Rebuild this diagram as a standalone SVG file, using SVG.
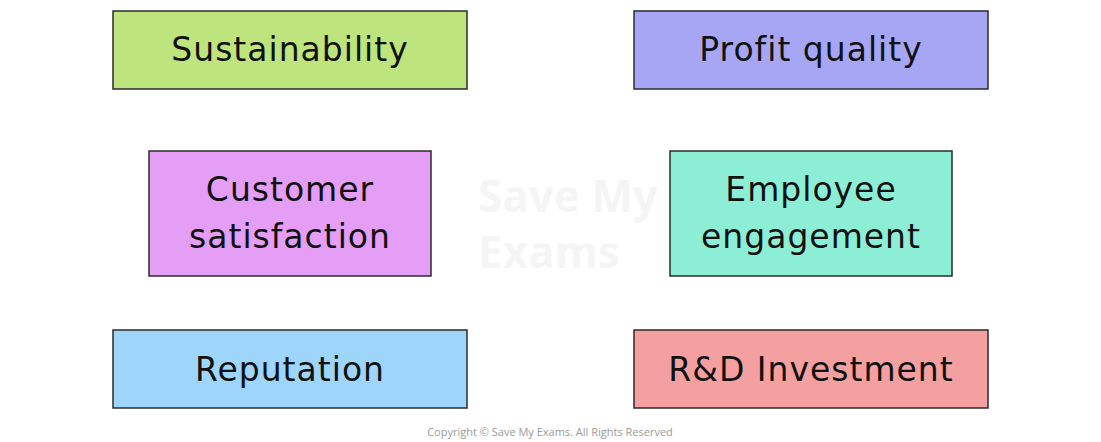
<svg xmlns="http://www.w3.org/2000/svg" width="1101" height="442" viewBox="0 0 1101 442">
<style>
.b{stroke:#2b2b2b;stroke-width:1.5}
.t{font-family:"DejaVu Sans",sans-serif;font-size:33px;fill:#111;text-anchor:middle;letter-spacing:1px}
.w{font-family:"Open Sans",sans-serif;font-weight:bold;font-size:44px;fill:#000;opacity:0.035}
</style>
<rect width="1101" height="442" fill="#fff"/>
<g id="watermark"><text class="w" x="478" y="212">Save My</text><text class="w" x="478" y="268">Exams</text></g>
<g id="connectors"></g>
<g id="sustainability"><rect class="b" x="113" y="11" width="354" height="78" fill="#bde47d"/><text class="t" x="290" y="61">Sustainability</text></g>
<g id="profit"><rect class="b" x="634" y="11" width="354" height="78" fill="#a6a6f4"/><text class="t" x="811" y="61">Profit quality</text></g>
<g id="customer"><rect class="b" x="149" y="151" width="282" height="125" fill="#e49ef5"/><text class="t" x="290" y="201">Customer</text><text class="t" x="290" y="248">satisfaction</text></g>
<g id="employee"><rect class="b" x="670" y="151" width="282" height="125" fill="#8cefd5"/><text class="t" x="811" y="201">Employee</text><text class="t" x="811" y="248">engagement</text></g>
<g id="reputation"><rect class="b" x="113" y="330" width="354" height="78" fill="#9dd5fb"/><text class="t" x="290" y="381">Reputation</text></g>
<g id="rd"><rect class="b" x="634" y="330" width="354" height="78" fill="#f4a0a0"/><text class="t" x="811" y="381">R&amp;D Investment</text></g>
<text x="550" y="436" font-family="Open Sans,sans-serif" font-size="11" fill="#999" text-anchor="middle">Copyright © Save My Exams. All Rights Reserved</text>
</svg>
